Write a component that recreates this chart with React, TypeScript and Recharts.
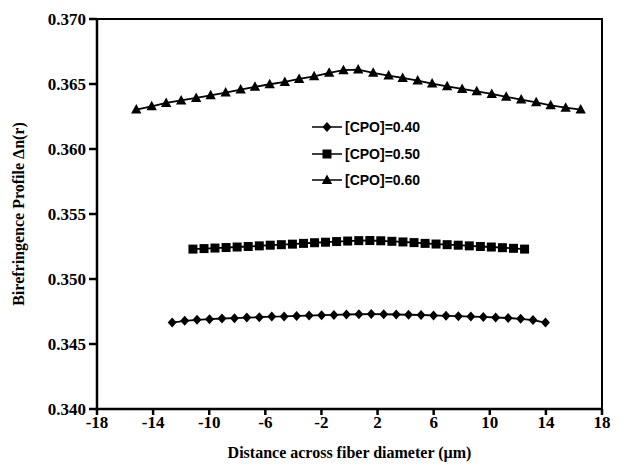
import React from "react";
import {
  LineChart,
  Line,
  XAxis,
  YAxis,
  ReferenceArea,
} from "recharts";

// x positions (µm) and birefringence values for each CPO concentration
const xCpo40 = [
  -12.64, -11.75, -10.87, -9.98, -9.09, -8.2, -7.32, -6.43, -5.54, -4.66, -3.77,
  -2.88, -1.99, -1.11, -0.22, 0.67, 1.55, 2.44, 3.33, 4.21, 5.1, 5.99, 6.88, 7.76,
  8.65, 9.54, 10.42, 11.31, 12.2, 13.08, 13.97,
];
const yCpo40 = [
  0.34665, 0.34678, 0.34686, 0.34691, 0.34696, 0.34699, 0.34703, 0.34706,
  0.34711, 0.34712, 0.34716, 0.34719, 0.34722, 0.34724, 0.34727, 0.34729,
  0.3473, 0.34729, 0.34727, 0.34725, 0.34723, 0.3472, 0.34717, 0.34714,
  0.34711, 0.34708, 0.34704, 0.347, 0.34694, 0.34684, 0.34665,
];

const xCpo50 = [
  -11.16, -10.37, -9.59, -8.8, -8.01, -7.22, -6.43, -5.65, -4.86, -4.07, -3.28,
  -2.49, -1.71, -0.92, -0.13, 0.66, 1.45, 2.23, 3.02, 3.81, 4.6, 5.39, 6.17, 6.96,
  7.75, 8.54, 9.33, 10.11, 10.9, 11.69, 12.48,
];
const yCpo50 = [
  0.3523, 0.35234, 0.35238, 0.35242, 0.35246, 0.3525, 0.35255, 0.3526, 0.35264,
  0.35268, 0.35274, 0.35279, 0.35283, 0.35288, 0.35292, 0.35295, 0.35296,
  0.35294, 0.3529, 0.35285, 0.3528, 0.35274, 0.35269, 0.35264, 0.3526, 0.35255,
  0.3525, 0.35246, 0.35241, 0.35236, 0.3523,
];

const xCpo60 = [
  -15.2, -14.1, -13.07, -12.0, -10.93, -9.9, -8.83, -7.76, -6.74, -5.69, -4.61,
  -3.59, -2.52, -1.45, -0.43, 0.62, 1.69, 2.79, 3.79, 4.86, 5.89, 6.96, 8.03,
  9.07, 10.14, 11.17, 12.24, 13.31, 14.34, 15.41, 16.48,
];
const yCpo60 = [
  0.36303, 0.36328, 0.36354, 0.36374, 0.36393, 0.36413, 0.36434, 0.36457,
  0.36478, 0.36498, 0.36516, 0.36539, 0.36559, 0.36586, 0.36606, 0.36611,
  0.36586, 0.36565, 0.36547, 0.36526, 0.36503, 0.36482, 0.36462, 0.36444,
  0.36424, 0.36401, 0.3638, 0.36359, 0.36336, 0.36318, 0.36303,
];

const xTicks = [-18, -14, -10, -6, -2, 2, 6, 10, 14, 18];
const yTicks = [0.34, 0.345, 0.35, 0.355, 0.36, 0.365, 0.37];
const seriesNames = ["[CPO]=0.40", "[CPO]=0.50", "[CPO]=0.60"];

const toPoints = (xs: number[], ys: number[]) =>
  xs.map((x, i) => ({ x, y: ys[i] }));

const serif = "'Liberation Serif', 'Times New Roman', serif";
const sans = "'Liberation Sans', Arial, sans-serif";

function marker(kind: string, cx: number, cy: number, key?: any) {
  if (kind === "diamond")
    return (
      <path
        key={key}
        d={`M${cx},${cy - 5}L${cx + 4.5},${cy}L${cx},${cy + 5}L${cx - 4.5},${cy}Z`}
        fill="#000"
      />
    );
  if (kind === "square")
    return <rect key={key} x={cx - 4.5} y={cy - 4.5} width={9} height={9} fill="#000" />;
  return (
    <path
      key={key}
      d={`M${cx},${cy - 5.5}L${cx + 5.2},${cy + 4}L${cx - 5.2},${cy + 4}Z`}
      fill="#000"
    />
  );
}

const kinds = ["diamond", "square", "triangle"];

const dotFor = (kind: string) => (p: any) =>
  marker(kind, p.cx, p.cy, `${kind}-${p.index}`);

function LegendBox() {
  return (
    <div
      style={{
        position: "absolute",
        left: 311,
        top: 114,
        fontFamily: sans,
        fontWeight: 700,
        fontSize: 14,
        color: "#000",
      }}
    >
      {seriesNames.map((name, i) => (
        <div
          key={name}
          style={{ display: "flex", alignItems: "center", height: 26.5 }}
        >
          <svg width={32} height={14} style={{ marginRight: 2 }}>
            <line x1={1} y1={7} x2={31} y2={7} stroke="#000" strokeWidth={1.5} />
            {marker(kinds[i], 16, 7)}
          </svg>
          <span>{name}</span>
        </div>
      ))}
    </div>
  );
}

export default function App() {
  const data40 = toPoints(xCpo40, yCpo40);
  const data50 = toPoints(xCpo50, yCpo50);
  const data60 = toPoints(xCpo60, yCpo60);

  return (
    <div style={{ position: "fixed", left: 0, top: 0, width: 630, height: 470, background: "#fff" }}>
      <LineChart
        width={630}
        height={470}
        margin={{ top: 19, right: 28, left: 0, bottom: 0 }}
      >
        <XAxis
          type="number"
          dataKey="x"
          domain={[-18, 18]}
          ticks={xTicks}
          allowDuplicatedCategory={false}
          height={61}
          stroke="#000"
          strokeWidth={2.5}
          tickSize={6}
          tickMargin={1}
          tick={{ fill: "#000", fontFamily: serif, fontWeight: 700, fontSize: 17 }}
          label={{
            value: "Distance across fiber diameter (\u00b5m)",
            position: "insideBottom",
            offset: 12,
            fill: "#000",
            fontFamily: serif,
            fontWeight: 700,
            fontSize: 16,
          }}
        />
        <YAxis
          type="number"
          dataKey="y"
          domain={[0.34, 0.37]}
          ticks={yTicks}
          width={97}
          stroke="#000"
          strokeWidth={2.5}
          tickSize={8}
          tickMargin={3}
          tickFormatter={(v: number) => v.toFixed(3)}
          tick={{ fill: "#000", fontFamily: serif, fontWeight: 700, fontSize: 17 }}
          label={{
            value: "Birefringence Profile \u0394n(r)",
            angle: -90,
            position: "insideLeft",
            offset: 18,
            fill: "#000",
            fontFamily: serif,
            fontWeight: 700,
            fontSize: 16,
            style: { textAnchor: "middle" },
          }}
        />
        <ReferenceArea
          x1={-18}
          x2={18}
          y1={0.34}
          y2={0.37}
          fill="none"
          stroke="#000"
          strokeWidth={2}
          ifOverflow="visible"
        />
        <Line
          data={data40}
          dataKey="y"
          name={seriesNames[0]}
          stroke="#000"
          strokeWidth={1.8}
          dot={dotFor("diamond")}
          isAnimationActive={false}
        />
        <Line
          data={data50}
          dataKey="y"
          name={seriesNames[1]}
          stroke="#000"
          strokeWidth={1.8}
          dot={dotFor("square")}
          isAnimationActive={false}
        />
        <Line
          data={data60}
          dataKey="y"
          name={seriesNames[2]}
          stroke="#000"
          strokeWidth={1.8}
          dot={dotFor("triangle")}
          isAnimationActive={false}
        />
      </LineChart>
      <LegendBox />
    </div>
  );
}
